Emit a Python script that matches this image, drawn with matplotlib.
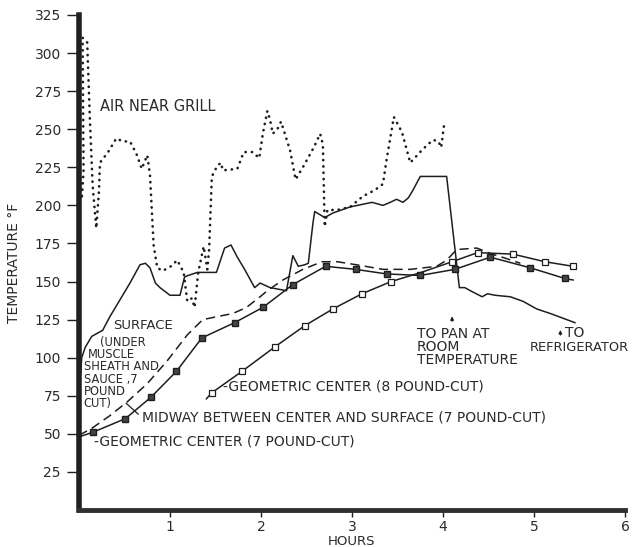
import matplotlib
matplotlib.use("Agg")
import matplotlib.pyplot as plt

# --- data (hours, deg F) ---
air_h = [0.0, 0.0, 0.01, 0.03, 0.05, 0.04, 0.09, 0.12, 0.15, 0.19, 0.22, 0.23,
         0.32, 0.41, 0.48, 0.56, 0.63, 0.69, 0.75, 0.78, 0.82, 0.86, 0.92, 1.01,
         1.08, 1.15, 1.19, 1.24, 1.27, 1.31, 1.37, 1.41, 1.43, 1.46, 1.52, 1.56,
         1.58, 1.74, 1.81, 1.91, 1.98, 2.02, 2.07, 2.10, 2.13, 2.19, 2.22, 2.32,
         2.38, 2.46, 2.58, 2.65, 2.68, 2.70, 2.73, 2.84, 2.98, 3.12, 3.25, 3.34,
         3.38, 3.46, 3.55, 3.64, 3.78, 3.89, 3.95, 3.98, 4.01]
air_t = [155, 194, 220, 204, 222, 310, 307, 256, 213, 185, 210, 228,
         235, 244, 242, 242, 234, 224, 233, 220, 174, 159, 157, 160,
         164, 156, 137, 139, 133, 156, 173, 158, 171, 219, 226, 228,
         223, 224, 235, 235, 231, 247, 262, 256, 247, 251, 255, 236,
         217, 225, 238, 247, 240, 186, 197, 197, 199, 206, 210, 214,
         230, 258, 248, 228, 237, 243, 242, 238, 252]

surf_h = [0.0, 0.01, 0.03, 0.07, 0.14, 0.26, 0.34, 0.43, 0.56, 0.67, 0.73, 0.78,
          0.84, 0.89, 1.0, 1.11, 1.16, 1.20, 1.30, 1.41, 1.51, 1.60, 1.67, 1.74,
          1.82, 1.93, 1.99, 2.10, 2.28, 2.35, 2.41, 2.48, 2.52, 2.57, 2.59, 2.70,
          2.79, 2.98, 3.22, 3.34, 3.42, 3.49, 3.56, 3.62, 3.67, 3.75, 4.04, 4.18,
          4.24, 4.30, 4.43, 4.49, 4.57, 4.74, 4.88, 5.03, 5.18, 5.45]
surf_t = [65, 83, 100, 107, 114, 118, 127, 136, 149, 161, 162, 159,
          149, 146, 141, 141, 153, 154, 156, 156, 156, 172, 174, 166,
          158, 146, 149, 146, 144, 167, 160, 161, 162, 188, 196, 192,
          195, 199, 202, 200, 202, 204, 202, 205, 210, 219, 219, 146,
          146, 144, 140, 142, 141, 140, 137, 132, 129, 123]

mid_h = [0.0, 0.15, 0.34, 0.53, 0.75, 0.97, 1.19, 1.36, 1.52, 1.69, 1.84, 1.99,
         2.07, 2.24, 2.46, 2.67, 2.84, 3.05, 3.34, 3.64, 3.93, 4.04, 4.15, 4.37,
         4.54, 4.65, 4.85]
mid_t = [49, 54, 62, 71, 83, 98, 115, 125, 127, 129, 133, 140,
         144, 151, 158, 163, 163, 161, 158, 158, 160, 164, 171, 172,
         168, 166, 162]

ctr7_h = [0.0, 0.15, 0.51, 0.79, 1.07, 1.35, 1.71, 2.02, 2.35, 2.71, 3.04, 3.38,
          3.75, 4.13, 4.52, 4.96, 5.34, 5.43]
ctr7_t = [48, 51, 60, 74, 91, 113, 123, 133, 148, 160, 158, 155,
          154, 158, 166, 159, 152, 151]

ctr8_h = [1.40, 1.46, 1.79, 2.15, 2.48, 2.79, 3.11, 3.43, 3.76, 4.10, 4.38, 4.77,
          5.12, 5.43]
ctr8_t = [73, 77, 91, 107, 121, 132, 142, 150, 156, 163, 169, 168, 163, 160]

# surface note, one line at a time (x in hours, y in deg F)
note_lines = ["(UNDER", "MUSCLE", "SHEATH AND", "SAUCE ,7", "POUND", "CUT)"]
note_x = [0.23, 0.10, 0.05, 0.05, 0.05, 0.05]
note_y = [110, 102, 94, 86, 78, 70]

y_ticks = [25, 50, 75, 100, 125, 150, 175, 200, 225, 250, 275, 300, 325]
x_ticks = [1, 2, 3, 4, 5, 6]

ink = "#1e1e1e"
txt = "#2a2a2a"

fig = plt.figure(figsize=(6.34, 5.47), dpi=100)
ax = fig.add_axes([0.1246, 0.0676, 0.8612, 0.905])

# air near grill - dotted
ax.plot(air_h, air_t, color=ink, lw=1.9, linestyle=(0, (0.1, 2.3)),
        dash_capstyle="round", solid_capstyle="round")
# surface - solid
ax.plot(surf_h, surf_t, color=ink, lw=1.1)
# midway - dashed
ax.plot(mid_h, mid_t, color=ink, lw=1.1, linestyle=(0, (6, 3.5)))
# geometric center 7 lb - filled squares
ax.plot(ctr7_h, ctr7_t, color=ink, lw=1.1, marker="s", markersize=4.5,
        markerfacecolor="#444444", markeredgecolor=ink,
        markevery=list(range(1, len(ctr7_h) - 1)))
# geometric center 8 lb - open squares
marks8 = [i for i in range(1, len(ctr8_h)) if i != 8]
ax.plot(ctr8_h, ctr8_t, color=ink, lw=1.1, marker="s", markersize=4.5,
        markerfacecolor="white", markeredgecolor=ink, markeredgewidth=0.9,
        markevery=marks8)

# labels on the chart
fs = 10
ax.text(0.23, 265, "AIR NEAR GRILL", fontsize=10.5, color=txt, va="center")
ax.text(0.37, 121, "SURFACE", fontsize=9.5, color=txt, va="center")
for s, x, y in zip(note_lines, note_x, note_y):
    ax.text(x, y, s, fontsize=8.3, color=txt, va="center")
ax.text(1.58, 81, "-GEOMETRIC CENTER (8 POUND-CUT)", fontsize=fs,
        color=txt, va="center")
ax.text(0.69, 61, "MIDWAY BETWEEN CENTER AND SURFACE (7 POUND-CUT)",
        fontsize=fs, color=txt, va="center")
ax.plot([0.52, 0.65], [70, 63], color=ink, lw=0.9)
ax.text(0.17, 45, "-GEOMETRIC CENTER (7 POUND-CUT)", fontsize=fs,
        color=txt, va="center")
ax.text(3.71, 107, "TO PAN AT\nROOM\nTEMPERATURE", fontsize=10,
        color=txt, va="center", linespacing=0.95)
ax.annotate("", xy=(4.10, 129), xytext=(4.10, 122),
            arrowprops=dict(arrowstyle="-|>", color=ink, lw=0.8,
                            mutation_scale=5))
ax.text(5.34, 116, "TO", fontsize=10, color=txt, va="center")
ax.text(4.95, 107, "REFRIGERATOR", fontsize=9.4, color=txt, va="center",
        clip_on=False)
ax.annotate("", xy=(5.29, 120), xytext=(5.29, 113),
            arrowprops=dict(arrowstyle="-|>", color=ink, lw=0.8,
                            mutation_scale=5))

ax.set_xlim(0, 6)
ax.set_ylim(0, 325)
ax.set_xticks(x_ticks)
ax.set_yticks(y_ticks)
ax.tick_params(axis="both", colors=ink, labelcolor=txt, labelsize=10,
               width=1.0, direction="out")
ax.tick_params(axis="y", length=9, pad=4)
ax.tick_params(axis="x", length=5, pad=2)
ax.set_xlabel("HOURS", fontsize=9.5, color=txt, labelpad=1)
ax.set_ylabel("TEMPERATURE °F", fontsize=10, color=txt, labelpad=10)

for side in ["top", "right"]:
    ax.spines[side].set_visible(False)
ax.spines["left"].set_linewidth(4)
ax.spines["bottom"].set_linewidth(3.5)
ax.spines["left"].set_color("#202020")
ax.spines["bottom"].set_color("#303030")

fig.savefig("out.png", dpi=100)
